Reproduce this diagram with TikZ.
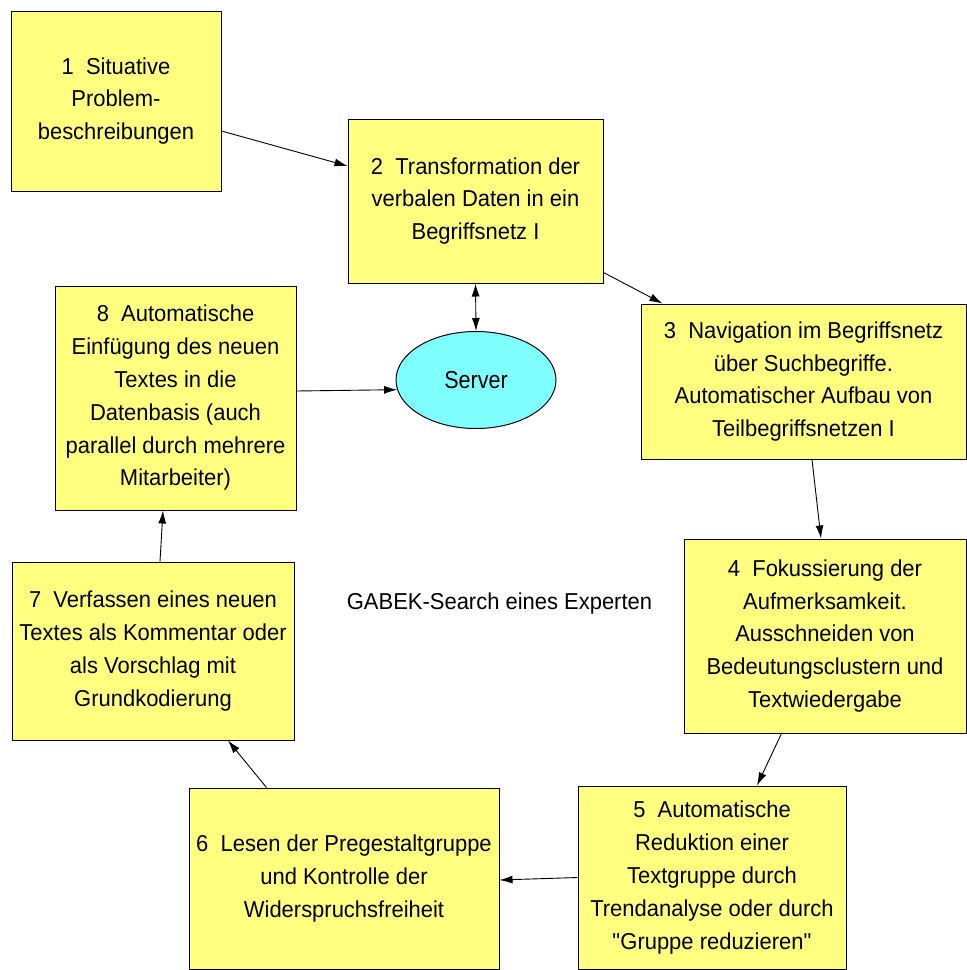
\documentclass[tikz,border=0pt]{standalone}
\usepackage{fontspec}
\setmainfont[FakeStretch=0.955]{Liberation Sans}
\newfontfamily\narrowsans[FakeStretch=0.88]{Liberation Sans}
\usetikzlibrary{arrows.meta,shapes.geometric}
\definecolor{boxyellow}{HTML}{FFFF80}
\definecolor{servercyan}{HTML}{80FFFF}
\begin{document}
\begin{tikzpicture}[x=1pt,y=-1pt,
  every node/.style={font=\fontsize{23}{32.8}\selectfont, align=center},
  stepbox/.style={draw=black, line width=1pt, fill=boxyellow, rectangle, inner sep=0pt},
  serverell/.style={draw=black, line width=1pt, fill=servercyan, ellipse, inner sep=0pt,
    minimum width=160pt, minimum height=97pt, font=\narrowsans\fontsize{24.5}{30}\selectfont},
  flow/.style={line width=0.9pt, -{Latex[length=13pt,width=8pt]}},
  bothflow/.style={line width=0.9pt, {Latex[length=13pt,width=8pt]}-{Latex[length=13pt,width=8pt]}}]
\useasboundingbox (0,0) rectangle (967,970);

% process steps
\node[stepbox, minimum width=210pt, minimum height=180pt] (b1) at (116,101)
  {1\ \ Situative\\Problem-\\beschreibungen};
\node[stepbox, minimum width=255pt, minimum height=164pt] (b2) at (475.5,201)
  {2\ \ Transformation der\\verbalen Daten in ein\\Begriffsnetz I};
\node[stepbox, minimum width=325pt, minimum height=155pt] (b3) at (803.5,381.5)
  {3\ \ Navigation im Begriffsnetz\\über Suchbegriffe.\\Automatischer Aufbau von\\Teilbegriffsnetzen I};
\node[stepbox, minimum width=282pt, minimum height=194pt] (b4) at (825,636)
  {4\ \ Fokussierung der\\Aufmerksamkeit.\\Ausschneiden von\\Bedeutungsclustern und\\Textwiedergabe};
\node[stepbox, minimum width=268pt, minimum height=183pt] (b5) at (712,877.5)
  {5\ \ Automatische\\Reduktion einer\\Textgruppe durch\\Trendanalyse oder durch\\\textquotedbl Gruppe reduzieren\textquotedbl};
\node[stepbox, minimum width=310pt, minimum height=181pt] (b6) at (344,878.5)
  {6\ \ Lesen der Pregestaltgruppe\\und Kontrolle der\\Widerspruchsfreiheit};
\node[stepbox, minimum width=282pt, minimum height=178pt] (b7) at (153,651)
  {7\ \ Verfassen eines neuen\\Textes als Kommentar oder\\als Vorschlag mit\\Grundkodierung};
\node[stepbox, minimum width=241pt, minimum height=224pt] (b8) at (175.5,398)
  {8\ \ Automatische\\Einfügung des neuen\\Textes in die\\Datenbasis (auch\\parallel durch mehrere\\Mitarbeiter)};

% server
\node[serverell] (srv) at (476,380) {Server};

% caption in the middle
\node (cap) at (499.5,604) {GABEK-Search eines Experten};

% connectors
\draw[flow] ([yshift=-30pt]b1.east) -- ([yshift=35pt]b2.west);
\draw[flow] ([yshift=11pt]b2.south east) -- ([xshift=22pt]b3.north west);
\draw[bothflow] (b2.south) -- (srv.north);
\draw[flow] ([yshift=7pt]b8.east) -- (srv.187);
\draw[flow] ([xshift=8.5pt]b3.south) -- ([xshift=-4pt]b4.north);
\draw[flow] ([xshift=98pt]b4.south west) -- ([xshift=45pt]b5.north);
\draw[flow] (b5.west) -- ([yshift=-1.5pt]b6.east);
\draw[flow] ([xshift=78pt]b6.north west) -- ([xshift=75pt]b7.south);
\draw[flow] ([xshift=7pt]b7.north) -- ([xshift=-12.5pt]b8.south);
\end{tikzpicture}
\end{document}
